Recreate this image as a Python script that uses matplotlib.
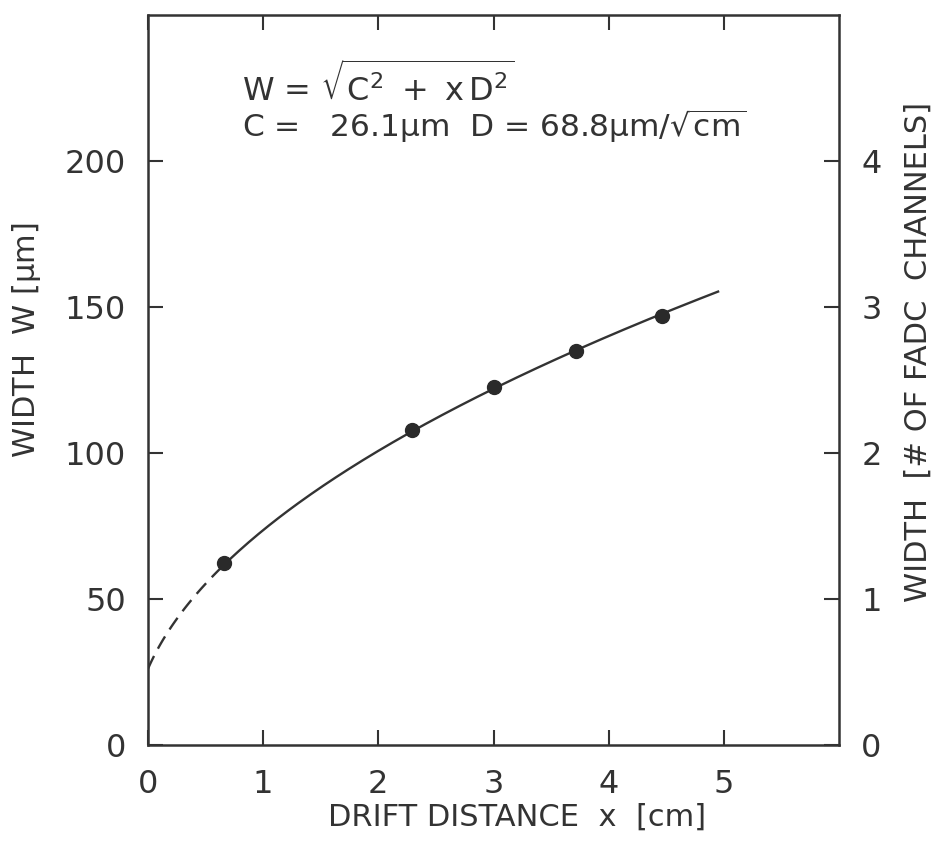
import numpy as np
import matplotlib
matplotlib.use("Agg")
import matplotlib.pyplot as plt

plt.rcParams['font.family'] = ['DejaVu Sans']
plt.rcParams['mathtext.fontset'] = 'dejavusans'
plt.rcParams['mathtext.default'] = 'regular'

# Measured widths versus drift distance
drift_cm = [0.66, 2.29, 3.00, 3.72, 4.46]
width_um = [62.5, 108.0, 122.5, 135.0, 147.0]

# Fit parameters W = sqrt(C^2 + x D^2)
C_um = 26.1
D_um = 68.8

x_ticks = [0, 1, 2, 3, 4, 5]
w_ticks = [0, 50, 100, 150, 200]
ch_ticks = [0, 1, 2, 3, 4]
um_per_channel = 50.0

ink = '#333333'

fig = plt.figure(figsize=(9.5, 8.43), dpi=100)
ax = fig.add_axes([148 / 950, 1 - 745 / 843, (839 - 148) / 950, (745 - 15) / 843])

x_fit = np.linspace(drift_cm[0], 4.95, 200)
x_ext = np.linspace(0, drift_cm[0], 60)
ax.plot(x_fit, np.sqrt(C_um**2 + x_fit * D_um**2), color=ink, lw=1.7)
ax.plot(x_ext, np.sqrt(C_um**2 + x_ext * D_um**2), color=ink, lw=1.7,
        dashes=(6, 3.5))
ax.plot(drift_cm, width_um, 'o', color='#2a2a2a', ms=10, zorder=5)

ax.set_xlim(0, 6)
ax.set_ylim(0, 250)
ax.set_xticks(x_ticks)
ax.set_yticks(w_ticks)
ax.tick_params(direction='in', length=11, width=1.5, colors=ink,
               labelsize=23, top=True, labeltop=False)
ax.tick_params(axis='x', pad=17)
ax.tick_params(axis='y', pad=16)
for s in ax.spines.values():
    s.set_linewidth(1.8)
    s.set_color(ink)

ax.set_xlabel('DRIFT DISTANCE  x  [cm]', fontsize=22, color=ink)
ax.xaxis.set_label_coords(0.534, -0.079)
ax.set_ylabel(r'WIDTH  W [$\mu$m]', fontsize=22, color=ink)
ax.yaxis.set_label_coords(-0.152, 0.555)

ax2 = ax.twinx()
ax2.set_ylim(0, 250 / um_per_channel)
ax2.set_yticks(ch_ticks)
ax2.tick_params(direction='in', length=11, width=1.5, colors=ink,
                labelsize=23, pad=16)
for s in ax2.spines.values():
    s.set_visible(False)
ax2.set_ylabel('WIDTH  [# OF FADC  CHANNELS]', fontsize=22, color=ink)
ax2.yaxis.set_label_coords(1.094, 0.538)

ax.text(0.82, 226, r'W = $\sqrt{\mathrm{C}^2\ +\ \mathrm{x\,D}^2}$',
        fontsize=23, color=ink, va='center', ha='left')
ax.text(0.82, 212, r'C =   26.1$\mu$m  D = 68.8$\mu$m/$\sqrt{\mathrm{cm}}$',
        fontsize=22.5, color=ink, va='center', ha='left')

fig.savefig('out.png', dpi=100, facecolor='white')
